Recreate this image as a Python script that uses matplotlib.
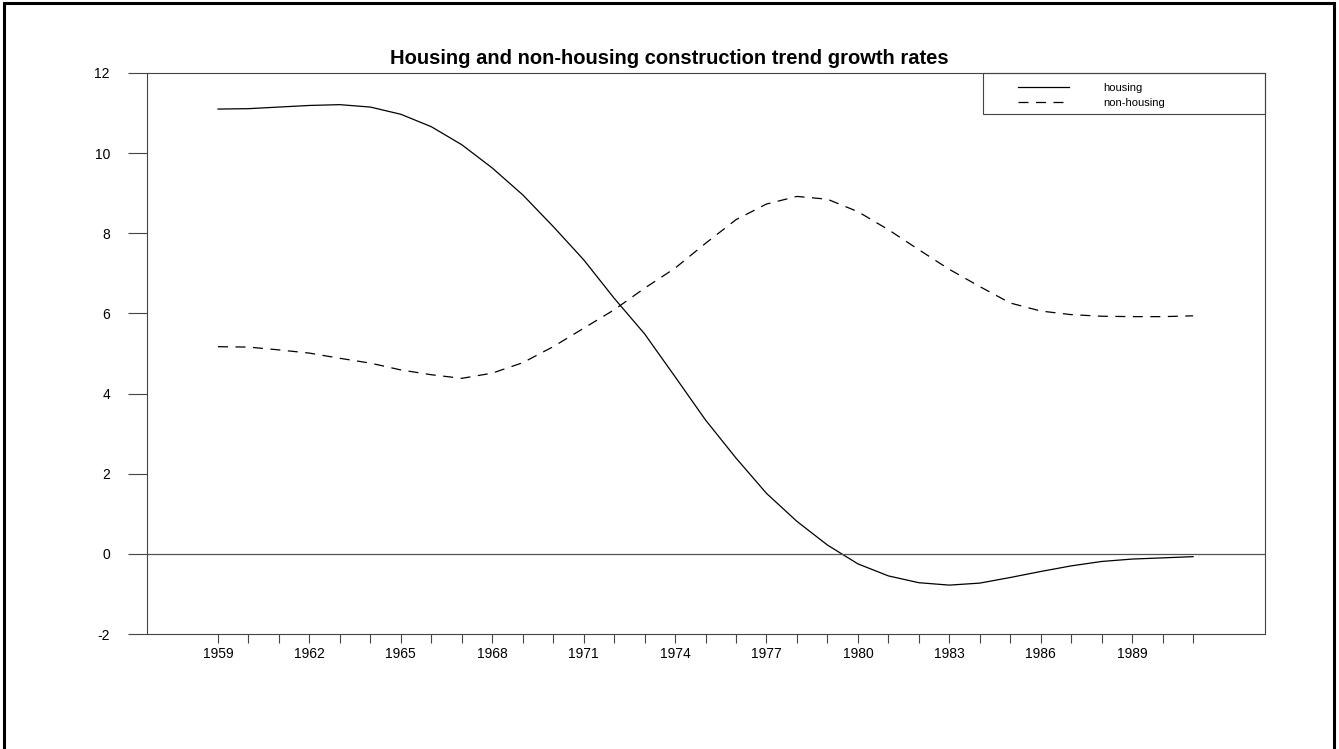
import matplotlib
matplotlib.use("Agg")
import matplotlib.pyplot as plt
from matplotlib.patches import Rectangle

plt.rcParams['font.family'] = ['Liberation Sans', 'DejaVu Sans']

# trend growth rates, yearly 1959-1991
years = list(range(1959, 1992))
housing = [11.10, 11.11, 11.15, 11.19, 11.21, 11.15, 10.97, 10.66, 10.21, 9.63,
           8.96, 8.17, 7.34, 6.38, 5.49, 4.42, 3.34, 2.39, 1.51, 0.81,
           0.22, -0.25, -0.55, -0.72, -0.78, -0.73, -0.59, -0.44, -0.30, -0.19,
           -0.13, -0.10, -0.07]
non_housing = [5.17, 5.16, 5.09, 5.01, 4.88, 4.76, 4.59, 4.47, 4.38, 4.51,
               4.77, 5.17, 5.63, 6.09, 6.63, 7.13, 7.75, 8.34, 8.73, 8.92,
               8.85, 8.54, 8.09, 7.59, 7.10, 6.67, 6.26, 6.06, 5.97, 5.93,
               5.92, 5.92, 5.94]
x_labels = [str(y) for y in range(1959, 1992, 3)]
y_ticks = list(range(-2, 13, 2))

fig = plt.figure(figsize=(13.39, 7.49), dpi=100)
ax = fig.add_axes([147 / 1339, 1 - 634 / 749, (1265 - 147) / 1339, (634 - 73) / 749])

ax.plot(years, housing, color='black', linewidth=0.9, label='housing')
ax.plot(years, non_housing, color='black', linewidth=0.9, linestyle=(0, (8, 6)),
        label='non-housing')
ax.axhline(0, color='#555555', linewidth=0.9)

ax.set_xlim(1956.67, 1993.36)
ax.set_ylim(-2, 12)
ax.set_yticks(y_ticks)
ax.set_yticklabels([str(v) for v in y_ticks], fontsize=10)
ax.set_xticks(years)
ax.set_xticklabels([str(y) if str(y) in x_labels else '' for y in years], fontsize=10)

ax.tick_params(axis='y', direction='out', length=13.7, width=0.8, pad=13, color='#444444')
ax.tick_params(axis='x', direction='out', length=6.5, width=0.8, pad=3, color='#444444')
for s in ax.spines.values():
    s.set_color('#444444')
    s.set_linewidth(0.8)

# legend: frameless content plus a separate box, sized like the original
leg = ax.legend(loc='upper left', bbox_to_anchor=(0.779, 0.982), fontsize=8,
                frameon=False, borderpad=0, handlelength=4.6,
                handletextpad=3.1, borderaxespad=0, labelspacing=0.45)
ax.add_patch(Rectangle((0.7478, 0.9269), 0.2522, 0.0731, transform=ax.transAxes,
                       fill=False, edgecolor='#444444', linewidth=0.8, clip_on=False))

fig.text(0.5, 1 - 58 / 749, 'Housing and non-housing construction trend growth rates',
         ha='center', va='center', fontsize=14.5, fontweight='bold')

fig.patches.append(Rectangle((3.5 / 1339, -0.05), (1334 - 3.5) / 1339, 1.05 - 3 / 749,
                             transform=fig.transFigure, fill=False,
                             edgecolor='black', linewidth=2.2))

fig.savefig('out.png', dpi=100)
